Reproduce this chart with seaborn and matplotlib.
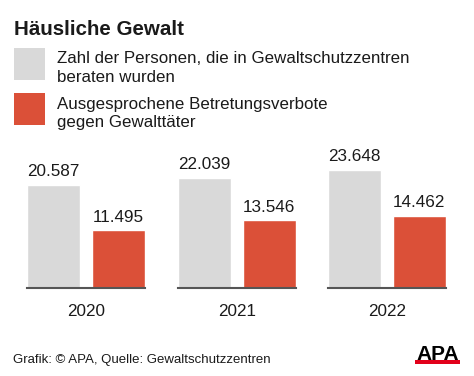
import matplotlib
matplotlib.use("Agg")
import matplotlib.pyplot as plt
import seaborn as sns
import pandas as pd
from matplotlib.patches import Rectangle

years = ["2020", "2021", "2022"]
series = ["Zahl der Personen, die in Gewaltschutzzentren\nberaten wurden",
          "Ausgesprochene Betretungsverbote\ngegen Gewalttäter"]
beraten = [20587, 22039, 23648]
verbote = [11495, 13546, 14462]
colors = ["#d9d9d9", "#db5038"]

sns.set_theme(style="white")
plt.rcParams["font.family"] = ["Liberation Sans", "DejaVu Sans"]

W, H = 474, 376
fig = plt.figure(figsize=(W / 100, H / 100), dpi=100)
fig.patch.set_facecolor("white")


def fx(px):
    return px / W


def fy(py):
    return 1 - py / H


# title
fig.text(fx(14), fy(35), "Häusliche Gewalt", fontsize=14.8, fontweight="bold",
         color="#1a1a1a", va="baseline", ha="left")

# legend (drawn by hand: big square keys, two-line labels)
legend_y = [(48, 63, 82), (93, 109, 127)]
for (top, b1, b2), label, col in zip(legend_y, series, colors):
    fig.add_artist(Rectangle((fx(14), fy(top + 32)), fx(31), 32 / H,
                             transform=fig.transFigure, facecolor=col, edgecolor="none"))
    l1, l2 = label.split("\n")
    fig.text(fx(57), fy(b1), l1, fontsize=12.2, color="#1a1a1a", va="baseline")
    fig.text(fx(57), fy(b2), l2, fontsize=12.2, color="#1a1a1a", va="baseline")

# bars: one small panel per year
lefts = [27, 178, 328]
panel_w = 118
bottom_px, top_px = 288, 138
ymax = (bottom_px - top_px) / (103 / 20587)

for left, year, b, v in zip(lefts, years, beraten, verbote):
    ax = fig.add_axes([fx(left), fy(bottom_px), fx(panel_w), (bottom_px - top_px) / H])
    df = pd.DataFrame({"Reihe": series, "Wert": [b, v]})
    sns.barplot(data=df, x="Reihe", y="Wert", hue="Reihe", palette=colors,
                width=0.828, legend=False, ax=ax, saturation=1)
    ax.set_xlim(-0.414, 1.414)
    ax.set_ylim(0, ymax)
    for cont in ax.containers:
        ax.bar_label(cont, labels=[f"{x:,.0f}".replace(",", ".") for x in cont.datavalues],
                     padding=4, fontsize=12.3, color="#1a1a1a")
    for s in ["top", "right", "left"]:
        ax.spines[s].set_visible(False)
    ax.spines["bottom"].set_color("#555555")
    ax.spines["bottom"].set_linewidth(1.5)
    ax.set_xticks([])
    ax.set_yticks([])
    ax.set_xlabel("")
    ax.set_ylabel("")
    ax.set_facecolor("none")
    fig.text(fx(left + panel_w / 2), fy(316), year, fontsize=12.3, ha="center",
             va="baseline", color="#1a1a1a")

# footer
fig.text(fx(13), fy(363), "Grafik: © APA, Quelle: Gewaltschutzzentren",
         fontsize=9.5, color="#1a1a1a", va="baseline")

# APA logo
fig.add_artist(Rectangle((fx(415), fy(364)), fx(45), 4 / H,
                         transform=fig.transFigure, facecolor="#e2001a", edgecolor="none"))
fig.text(fx(437.5), fy(360), "APA", fontsize=15, fontweight="bold", color="black",
         ha="center", va="baseline")

fig.savefig("out.png", dpi=100, facecolor="white")
